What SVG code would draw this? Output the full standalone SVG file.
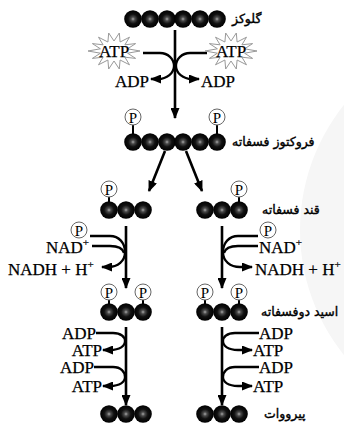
<svg xmlns="http://www.w3.org/2000/svg" xmlns:xlink="http://www.w3.org/1999/xlink" width="344" height="426" viewBox="0 0 344 426">
  <style>
    .lat { font-family: "Liberation Serif", "Times New Roman", serif; font-size: 17px; fill: #000; stroke: #000; stroke-width: 0.25; }
    .sup { font-size: 11px; }
    .fa { font-family: "DejaVu Sans", sans-serif; font-size: 12.5px; fill: #000; stroke: #000; stroke-width: 0.4; }
    .pl { font-family: "Liberation Serif", serif; font-size: 15px; fill: #000; text-anchor: middle; }
    .pc { fill: #fff; stroke: #666; stroke-width: 1; }
    .stalk { stroke: #000; stroke-width: 2; }
    .main { fill: none; stroke: #000; stroke-width: 2.6; }
    .rx { fill: none; stroke: #000; stroke-width: 2.3; }
    .burst { fill: #fff; stroke: #999; stroke-width: 1; }
  </style>
  <defs>
    <radialGradient id="ballGrad" cx="0.5" cy="0.5" r="0.5">
      <stop offset="0" stop-color="#a8a8a8"/>
      <stop offset="0.22" stop-color="#4a4a4a"/>
      <stop offset="0.55" stop-color="#111"/>
      <stop offset="1" stop-color="#000"/>
    </radialGradient>
    <circle id="b" r="8.8" fill="url(#ballGrad)"/>
    <marker id="ah" markerUnits="userSpaceOnUse" markerWidth="11" markerHeight="9" refX="10" refY="4.5" orient="auto">
      <path d="M0,0 L11,4.5 L0,9 z" fill="#000"/>
    </marker>
    <!-- starburst behind the ATP consumed in the first phase -->
    <path id="burstShape" d="M26,0 L13.6,2.2 L21.6,7.4 L10.9,6.2 L15.5,13.8 L6.1,9 L5.3,18 L0,10 L-5.3,18 L-6.1,9 L-15.5,13.8 L-10.9,6.2 L-21.6,7.4 L-13.6,2.2 L-26,0 L-13.6,-2.2 L-21.6,-7.4 L-10.9,-6.2 L-15.5,-13.8 L-6.1,-9 L-5.3,-18 L0,-10 L5.3,-18 L6.1,-9 L15.5,-13.8 L10.9,-6.2 L21.6,-7.4 L13.6,-2.2 z"/>
  </defs>

  <rect width="344" height="426" fill="#fff"/>
  <circle cx="500" cy="230" r="200" fill="#f6f6f6"/>

  <!-- connectors -->
  <g id="connectors">
    <!-- glucose to fructose bisphosphate -->
    <line class="main" x1="175" y1="30" x2="175" y2="118" marker-end="url(#ah)"/>
    <path class="rx" d="M143,53 H160 C168,53 174,59 174,66 C174,73 167,79 158,79 H151" marker-end="url(#ah)"/>
    <path class="rx" d="M207,53 H190 C182,53 176,59 176,66 C176,73 183,79 192,79 H199" marker-end="url(#ah)"/>
    <!-- split -->
    <line class="main" x1="165" y1="151" x2="149" y2="191" marker-end="url(#ah)"/>
    <line class="main" x1="186" y1="151" x2="202" y2="191" marker-end="url(#ah)"/>
    <!-- triose phosphate to bisphosphoglycerate -->
    <line class="main" x1="126" y1="226" x2="126" y2="288" marker-end="url(#ah)"/>
    <line class="main" x1="222" y1="226" x2="222" y2="288" marker-end="url(#ah)"/>
    <path class="rx" d="M90,236 H110 C119,236 125,243 125,252 C125,261 118,267 108,267 H102" marker-end="url(#ah)"/>
    <path class="rx" d="M92,246 H110 C118,246 123,249 124,253"/>
    <path class="rx" d="M258,236 H238 C229,236 223,243 223,252 C223,261 230,267 240,267 H252" marker-end="url(#ah)"/>
    <path class="rx" d="M258,246 H238 C230,246 225,249 224,253"/>
    <!-- bisphosphoglycerate to pyruvate -->
    <line class="main" x1="126" y1="327" x2="126" y2="405" marker-end="url(#ah)"/>
    <line class="main" x1="222" y1="327" x2="222" y2="405" marker-end="url(#ah)"/>
    <path class="rx" d="M96,333 H113 C121,333 125,337 125,341 C125,346 120,350 110,350 H103" marker-end="url(#ah)"/>
    <path class="rx" d="M94,367 H113 C121,367 125,372 125,377 C125,382 120,386 110,386 H103" marker-end="url(#ah)"/>
    <path class="rx" d="M259,333 H235 C227,333 223,337 223,341 C223,346 228,350 238,350 H252" marker-end="url(#ah)"/>
    <path class="rx" d="M259,367 H235 C227,367 223,372 223,377 C223,382 228,386 238,386 H252" marker-end="url(#ah)"/>
  </g>

  <!-- glucose -->
  <g id="glucose">
    <use xlink:href="#b" x="133" y="19"/>
    <use xlink:href="#b" x="150" y="19"/>
    <use xlink:href="#b" x="167" y="19"/>
    <use xlink:href="#b" x="183" y="19"/>
    <use xlink:href="#b" x="200" y="19"/>
    <use xlink:href="#b" x="217" y="19"/>
    <text class="fa" x="232" y="23">گلوکز</text>
  </g>

  <!-- ATP / ADP -->
  <g id="atp-left">
    <use xlink:href="#burstShape" class="burst" transform="translate(114,51)"/>
    <text class="lat" x="114" y="57" text-anchor="middle">ATP</text>
  </g>
  <g id="atp-right">
    <use xlink:href="#burstShape" class="burst" transform="translate(231,51)"/>
    <text class="lat" x="231" y="57" text-anchor="middle">ATP</text>
  </g>
  <g id="adp-left"><text class="lat" x="149" y="87" text-anchor="end">ADP</text></g>
  <g id="adp-right"><text class="lat" x="201" y="87">ADP</text></g>

  <!-- fructose bisphosphate -->
  <g id="fructose-bisphosphate">
    <line class="stalk" x1="133" y1="120" x2="133" y2="135"/>
    <line class="stalk" x1="217" y1="120" x2="217" y2="135"/>
    <use xlink:href="#b" x="133" y="142"/>
    <use xlink:href="#b" x="150" y="142"/>
    <use xlink:href="#b" x="167" y="142"/>
    <use xlink:href="#b" x="183" y="142"/>
    <use xlink:href="#b" x="200" y="142"/>
    <use xlink:href="#b" x="217" y="142"/>
    <circle class="pc" cx="133" cy="117" r="8"/>
    <text class="pl" x="133" y="122.5">P</text>
    <circle class="pc" cx="217" cy="117" r="8"/>
    <text class="pl" x="217" y="122.5">P</text>
    <text class="fa" x="232" y="146">فروکتوز فسفاته</text>
  </g>

  <!-- triose phosphate -->
  <g id="triose-left">
    <line class="stalk" x1="109" y1="194" x2="109" y2="203"/>
    <use xlink:href="#b" x="109" y="210"/>
    <use xlink:href="#b" x="126" y="210"/>
    <use xlink:href="#b" x="143" y="210"/>
    <circle class="pc" cx="109" cy="189" r="8"/>
    <text class="pl" x="109" y="194.5">P</text>
  </g>
  <g id="triose-right">
    <line class="stalk" x1="239" y1="194" x2="239" y2="203"/>
    <use xlink:href="#b" x="205" y="210"/>
    <use xlink:href="#b" x="222" y="210"/>
    <use xlink:href="#b" x="239" y="210"/>
    <circle class="pc" cx="239" cy="189" r="8"/>
    <text class="pl" x="239" y="194.5">P</text>
    <text class="fa" x="262" y="214">قند فسفاته</text>
  </g>

  <!-- NAD reactions -->
  <g id="nad-left">
    <circle class="pc" cx="79" cy="230" r="8"/>
    <text class="pl" x="79" y="235.5">P</text>
    <text class="lat" x="46" y="253">NAD<tspan class="sup" dy="-7">+</tspan></text>
    <text class="lat" x="8" y="275">NADH + H<tspan class="sup" dy="-7">+</tspan></text>
  </g>
  <g id="nad-right">
    <circle class="pc" cx="268" cy="230" r="8"/>
    <text class="pl" x="268" y="235.5">P</text>
    <text class="lat" x="259" y="253">NAD<tspan class="sup" dy="-7">+</tspan></text>
    <text class="lat" x="255" y="275">NADH + H<tspan class="sup" dy="-7">+</tspan></text>
  </g>

  <!-- bisphosphoglycerate -->
  <g id="bisphospho-left">
    <line class="stalk" x1="109" y1="297" x2="109" y2="305"/>
    <line class="stalk" x1="143" y1="297" x2="143" y2="305"/>
    <use xlink:href="#b" x="109" y="312"/>
    <use xlink:href="#b" x="126" y="312"/>
    <use xlink:href="#b" x="143" y="312"/>
    <circle class="pc" cx="109" cy="292" r="8"/>
    <text class="pl" x="109" y="297.5">P</text>
    <circle class="pc" cx="143" cy="292" r="8"/>
    <text class="pl" x="143" y="297.5">P</text>
  </g>
  <g id="bisphospho-right">
    <line class="stalk" x1="205" y1="297" x2="205" y2="305"/>
    <line class="stalk" x1="239" y1="297" x2="239" y2="305"/>
    <use xlink:href="#b" x="205" y="312"/>
    <use xlink:href="#b" x="222" y="312"/>
    <use xlink:href="#b" x="239" y="312"/>
    <circle class="pc" cx="205" cy="292" r="8"/>
    <text class="pl" x="205" y="297.5">P</text>
    <circle class="pc" cx="239" cy="292" r="8"/>
    <text class="pl" x="239" y="297.5">P</text>
    <text class="fa" x="261" y="316">اسید دوفسفاته</text>
  </g>

  <!-- ADP / ATP substrate-level phosphorylation -->
  <g id="atp-gain-left">
    <text class="lat" x="96" y="339" text-anchor="end">ADP</text>
    <text class="lat" x="102" y="356" text-anchor="end">ATP</text>
    <text class="lat" x="94" y="373" text-anchor="end">ADP</text>
    <text class="lat" x="102" y="392" text-anchor="end">ATP</text>
  </g>
  <g id="atp-gain-right">
    <text class="lat" x="259" y="339">ADP</text>
    <text class="lat" x="253" y="356">ATP</text>
    <text class="lat" x="259" y="373">ADP</text>
    <text class="lat" x="253" y="392">ATP</text>
  </g>

  <!-- pyruvate -->
  <g id="pyruvate-left">
    <use xlink:href="#b" x="109" y="414"/>
    <use xlink:href="#b" x="126" y="414"/>
    <use xlink:href="#b" x="143" y="414"/>
  </g>
  <g id="pyruvate-right">
    <use xlink:href="#b" x="205" y="414"/>
    <use xlink:href="#b" x="222" y="414"/>
    <use xlink:href="#b" x="239" y="414"/>
    <text class="fa" x="264" y="418">پیرووات</text>
  </g>
</svg>
